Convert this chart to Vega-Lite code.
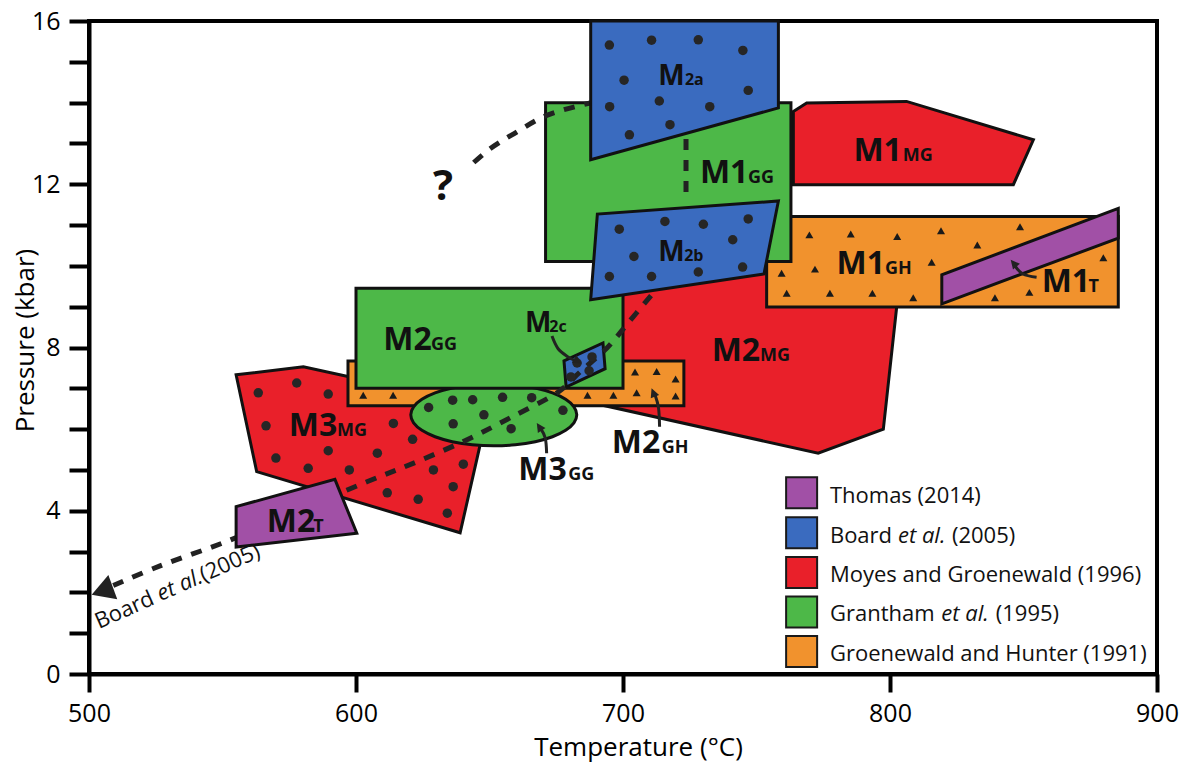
{
  "$schema": "https://vega.github.io/schema/vega-lite/v6.json",
  "width": 1068,
  "height": 653,
  "autosize": {"type": "none"},
  "padding": {"left": 89, "top": 21, "right": 31, "bottom": 89},
  "background": "white",
  "config": {
    "view": {"stroke": "black", "strokeWidth": 4},
    "font": "Open Sans"
  },
  "datasets": {
    "shapes": [
      {"r": "M1MG", "i": 1, "t": 763.8, "p": 13.78},
      {"r": "M1MG", "i": 2, "t": 768.8, "p": 13.99},
      {"r": "M1MG", "i": 3, "t": 806.2, "p": 14.03},
      {"r": "M1MG", "i": 4, "t": 853.7, "p": 13.09},
      {"r": "M1MG", "i": 5, "t": 846.2, "p": 11.99},
      {"r": "M1MG", "i": 6, "t": 763.8, "p": 11.99},
      {"r": "M2MG", "i": 1, "t": 697.0, "p": 9.31},
      {"r": "M2MG", "i": 2, "t": 728.8, "p": 9.66},
      {"r": "M2MG", "i": 3, "t": 758.8, "p": 9.9},
      {"r": "M2MG", "i": 4, "t": 803.2, "p": 9.41},
      {"r": "M2MG", "i": 5, "t": 797.5, "p": 6.0},
      {"r": "M2MG", "i": 6, "t": 773.1, "p": 5.41},
      {"r": "M2MG", "i": 7, "t": 692.1, "p": 6.59},
      {"r": "M2MG", "i": 8, "t": 695.1, "p": 7.21},
      {"r": "M1GH", "i": 1, "t": 753.8, "p": 8.99},
      {"r": "M1GH", "i": 2, "t": 753.8, "p": 11.21},
      {"r": "M1GH", "i": 3, "t": 885.5, "p": 11.21},
      {"r": "M1GH", "i": 4, "t": 885.5, "p": 8.99},
      {"r": "M1GG", "i": 1, "t": 671.0, "p": 10.11},
      {"r": "M1GG", "i": 2, "t": 671.0, "p": 14.0},
      {"r": "M1GG", "i": 3, "t": 762.9, "p": 14.0},
      {"r": "M1GG", "i": 4, "t": 762.9, "p": 10.11},
      {"r": "M1T", "i": 1, "t": 819.4, "p": 9.07},
      {"r": "M1T", "i": 2, "t": 819.4, "p": 9.78},
      {"r": "M1T", "i": 3, "t": 885.5, "p": 11.41},
      {"r": "M1T", "i": 4, "t": 885.5, "p": 10.68},
      {"r": "M3MG", "i": 1, "t": 555.1, "p": 7.33},
      {"r": "M3MG", "i": 2, "t": 580.3, "p": 7.53},
      {"r": "M3MG", "i": 3, "t": 597.8, "p": 7.28},
      {"r": "M3MG", "i": 4, "t": 642.7, "p": 7.21},
      {"r": "M3MG", "i": 5, "t": 649.4, "p": 6.6},
      {"r": "M3MG", "i": 6, "t": 646.4, "p": 5.59},
      {"r": "M3MG", "i": 7, "t": 639.0, "p": 3.46},
      {"r": "M3MG", "i": 8, "t": 562.8, "p": 4.96},
      {"r": "M2GH", "i": 1, "t": 597.0, "p": 6.57},
      {"r": "M2GH", "i": 2, "t": 597.0, "p": 7.67},
      {"r": "M2GH", "i": 3, "t": 722.8, "p": 7.67},
      {"r": "M2GH", "i": 4, "t": 722.8, "p": 6.57},
      {"r": "M3GG", "i": 1, "t": 682.69, "p": 6.35},
      {"r": "M3GG", "i": 2, "t": 681.63, "p": 6.547},
      {"r": "M3GG", "i": 3, "t": 678.52, "p": 6.73},
      {"r": "M3GG", "i": 4, "t": 673.58, "p": 6.887},
      {"r": "M3GG", "i": 5, "t": 667.15, "p": 7.008},
      {"r": "M3GG", "i": 6, "t": 659.65, "p": 7.084},
      {"r": "M3GG", "i": 7, "t": 651.6, "p": 7.11},
      {"r": "M3GG", "i": 8, "t": 643.55, "p": 7.084},
      {"r": "M3GG", "i": 9, "t": 636.05, "p": 7.008},
      {"r": "M3GG", "i": 10, "t": 629.62, "p": 6.887},
      {"r": "M3GG", "i": 11, "t": 624.68, "p": 6.73},
      {"r": "M3GG", "i": 12, "t": 621.57, "p": 6.547},
      {"r": "M3GG", "i": 13, "t": 620.51, "p": 6.35},
      {"r": "M3GG", "i": 14, "t": 621.57, "p": 6.153},
      {"r": "M3GG", "i": 15, "t": 624.68, "p": 5.97},
      {"r": "M3GG", "i": 16, "t": 629.62, "p": 5.813},
      {"r": "M3GG", "i": 17, "t": 636.05, "p": 5.692},
      {"r": "M3GG", "i": 18, "t": 643.55, "p": 5.616},
      {"r": "M3GG", "i": 19, "t": 651.6, "p": 5.59},
      {"r": "M3GG", "i": 20, "t": 659.65, "p": 5.616},
      {"r": "M3GG", "i": 21, "t": 667.15, "p": 5.692},
      {"r": "M3GG", "i": 22, "t": 673.58, "p": 5.813},
      {"r": "M3GG", "i": 23, "t": 678.52, "p": 5.97},
      {"r": "M3GG", "i": 24, "t": 681.63, "p": 6.153},
      {"r": "M2GG", "i": 1, "t": 600.0, "p": 7.0},
      {"r": "M2GG", "i": 2, "t": 600.0, "p": 9.45},
      {"r": "M2GG", "i": 3, "t": 700.0, "p": 9.45},
      {"r": "M2GG", "i": 4, "t": 700.0, "p": 7.0},
      {"r": "M2c", "i": 1, "t": 677.9, "p": 7.67},
      {"r": "M2c", "i": 2, "t": 692.5, "p": 8.11},
      {"r": "M2c", "i": 3, "t": 693.3, "p": 7.48},
      {"r": "M2c", "i": 4, "t": 678.7, "p": 7.03},
      {"r": "M2a", "i": 1, "t": 687.9, "p": 12.6},
      {"r": "M2a", "i": 2, "t": 687.9, "p": 16.0},
      {"r": "M2a", "i": 3, "t": 758.2, "p": 16.0},
      {"r": "M2a", "i": 4, "t": 758.2, "p": 13.87},
      {"r": "M2b", "i": 1, "t": 687.9, "p": 9.17},
      {"r": "M2b", "i": 2, "t": 690.4, "p": 11.27},
      {"r": "M2b", "i": 3, "t": 758.2, "p": 11.59},
      {"r": "M2b", "i": 4, "t": 752.8, "p": 9.8},
      {"r": "M2T", "i": 1, "t": 555.1, "p": 3.11},
      {"r": "M2T", "i": 2, "t": 555.1, "p": 4.1},
      {"r": "M2T", "i": 3, "t": 592.1, "p": 4.77},
      {"r": "M2T", "i": 4, "t": 600.3, "p": 3.45}
    ],
    "paths": [
      {"k": "q", "i": 1, "t": 689.5, "p": 14.02},
      {"k": "q", "i": 2, "t": 671.9, "p": 13.7},
      {"k": "q", "i": 3, "t": 658.4, "p": 13.21},
      {"k": "q", "i": 4, "t": 650.2, "p": 12.87},
      {"k": "q", "i": 5, "t": 642.7, "p": 12.45},
      {"k": "v", "i": 1, "t": 723.6, "p": 13.11},
      {"k": "v", "i": 2, "t": 723.6, "p": 11.72},
      {"k": "b", "i": 1, "t": 715.7, "p": 9.66},
      {"k": "b", "i": 2, "t": 710.1, "p": 9.24},
      {"k": "b", "i": 3, "t": 701.9, "p": 8.6},
      {"k": "b", "i": 4, "t": 694.0, "p": 7.99},
      {"k": "b", "i": 5, "t": 683.9, "p": 7.4},
      {"k": "b", "i": 6, "t": 675.3, "p": 6.89},
      {"k": "b", "i": 7, "t": 658.4, "p": 6.3},
      {"k": "b", "i": 8, "t": 641.6, "p": 5.74},
      {"k": "b", "i": 9, "t": 622.8, "p": 5.2},
      {"k": "b", "i": 10, "t": 604.1, "p": 4.71},
      {"k": "b", "i": 11, "t": 579.0, "p": 4.02},
      {"k": "b", "i": 12, "t": 552.8, "p": 3.28},
      {"k": "b", "i": 13, "t": 526.6, "p": 2.65},
      {"k": "b", "i": 14, "t": 507.1, "p": 2.11}
    ],
    "arrows": [
      {"k": "c", "i": 1, "t": 673.4, "p": 8.28},
      {"k": "c", "i": 2, "t": 675.7, "p": 7.97},
      {"k": "c", "i": 3, "t": 679.4, "p": 7.77},
      {"k": "c", "i": 4, "t": 682.4, "p": 7.67},
      {"k": "g3", "i": 1, "t": 671.4, "p": 5.41},
      {"k": "g3", "i": 2, "t": 670.9, "p": 5.78},
      {"k": "g3", "i": 3, "t": 669.3, "p": 6.0},
      {"k": "gh", "i": 1, "t": 713.7, "p": 6.06},
      {"k": "gh", "i": 2, "t": 713.3, "p": 6.52},
      {"k": "gh", "i": 3, "t": 712.0, "p": 6.84},
      {"k": "mt", "i": 1, "t": 854.9, "p": 9.72},
      {"k": "mt", "i": 2, "t": 849.8, "p": 9.8},
      {"k": "mt", "i": 3, "t": 846.8, "p": 10.0}
    ],
    "dots": [
      {"r": "M2a", "t": 694.9, "p": 15.41}, {"r": "M2a", "t": 710.7, "p": 15.53},
      {"r": "M2a", "t": 728.2, "p": 15.54}, {"r": "M2a", "t": 744.9, "p": 15.28},
      {"r": "M2a", "t": 700.4, "p": 14.55}, {"r": "M2a", "t": 746.9, "p": 14.3},
      {"r": "M2a", "t": 695.0, "p": 13.9}, {"r": "M2a", "t": 713.6, "p": 14.04},
      {"r": "M2a", "t": 732.5, "p": 13.9}, {"r": "M2a", "t": 717.6, "p": 13.46},
      {"r": "M2a", "t": 702.4, "p": 13.21},
      {"r": "M2b", "t": 698.6, "p": 10.9}, {"r": "M2b", "t": 715.7, "p": 11.09},
      {"r": "M2b", "t": 730.1, "p": 11.02}, {"r": "M2b", "t": 746.9, "p": 11.15},
      {"r": "M2b", "t": 741.1, "p": 10.64}, {"r": "M2b", "t": 704.1, "p": 10.23},
      {"r": "M2b", "t": 694.9, "p": 9.74}, {"r": "M2b", "t": 710.7, "p": 9.74},
      {"r": "M2b", "t": 728.2, "p": 9.85}, {"r": "M2b", "t": 744.8, "p": 9.97},
      {"r": "M2c", "t": 682.8, "p": 7.62}, {"r": "M2c", "t": 688.4, "p": 7.77},
      {"r": "M2c", "t": 680.5, "p": 7.28}, {"r": "M2c", "t": 687.3, "p": 7.43},
      {"r": "M3MG", "t": 563.4, "p": 6.89}, {"r": "M3MG", "t": 577.8, "p": 7.13},
      {"r": "M3MG", "t": 589.6, "p": 6.86}, {"r": "M3MG", "t": 566.3, "p": 6.08},
      {"r": "M3MG", "t": 614.0, "p": 6.14}, {"r": "M3MG", "t": 621.2, "p": 5.75},
      {"r": "M3MG", "t": 589.6, "p": 5.47}, {"r": "M3MG", "t": 608.0, "p": 5.41},
      {"r": "M3MG", "t": 570.0, "p": 5.29}, {"r": "M3MG", "t": 582.1, "p": 5.04},
      {"r": "M3MG", "t": 597.5, "p": 5.0}, {"r": "M3MG", "t": 629.0, "p": 5.0},
      {"r": "M3MG", "t": 640.2, "p": 5.14}, {"r": "M3MG", "t": 636.4, "p": 4.59},
      {"r": "M3MG", "t": 611.7, "p": 4.44}, {"r": "M3MG", "t": 623.3, "p": 4.28},
      {"r": "M3MG", "t": 634.2, "p": 3.94},
      {"r": "M3GG", "t": 627.2, "p": 6.53}, {"r": "M3GG", "t": 636.2, "p": 6.71},
      {"r": "M3GG", "t": 643.7, "p": 6.72}, {"r": "M3GG", "t": 654.9, "p": 6.78},
      {"r": "M3GG", "t": 665.8, "p": 6.77}, {"r": "M3GG", "t": 677.5, "p": 6.46},
      {"r": "M3GG", "t": 647.9, "p": 6.35}, {"r": "M3GG", "t": 636.4, "p": 6.13},
      {"r": "M3GG", "t": 658.1, "p": 6.01}
    ],
    "tris": [
      {"r": "M2GH", "t": 602.7, "p": 6.83}, {"r": "M2GH", "t": 613.9, "p": 6.83},
      {"r": "M2GH", "t": 686.7, "p": 6.83}, {"r": "M2GH", "t": 696.4, "p": 6.83},
      {"r": "M2GH", "t": 705.1, "p": 6.89}, {"r": "M2GH", "t": 704.5, "p": 7.4},
      {"r": "M2GH", "t": 712.6, "p": 7.41}, {"r": "M2GH", "t": 719.7, "p": 7.23},
      {"r": "M2GH", "t": 719.7, "p": 6.81},
      {"r": "M1GH", "t": 769.8, "p": 10.76}, {"r": "M1GH", "t": 785.3, "p": 10.78},
      {"r": "M1GH", "t": 802.7, "p": 10.72}, {"r": "M1GH", "t": 819.1, "p": 10.86},
      {"r": "M1GH", "t": 832.7, "p": 10.51}, {"r": "M1GH", "t": 848.7, "p": 10.96},
      {"r": "M1GH", "t": 879.9, "p": 10.2}, {"r": "M1GH", "t": 759.4, "p": 9.82},
      {"r": "M1GH", "t": 771.9, "p": 9.92}, {"r": "M1GH", "t": 815.6, "p": 10.09},
      {"r": "M1GH", "t": 761.3, "p": 9.33}, {"r": "M1GH", "t": 777.5, "p": 9.33},
      {"r": "M1GH", "t": 793.4, "p": 9.33}, {"r": "M1GH", "t": 808.7, "p": 9.22},
      {"r": "M1GH", "t": 839.3, "p": 9.22}, {"r": "M1GH", "t": 852.2, "p": 9.35}
    ],
    "labelMain": [
      {"s": "M2", "t": 610.2, "p": 7.94},
      {"s": "M2", "t": 733.2, "p": 7.68},
      {"s": "M2", "t": 695.8, "p": 5.41},
      {"s": "M3", "t": 660.8, "p": 4.75},
      {"s": "M3", "t": 574.8, "p": 5.82},
      {"s": "M2", "t": 566.6, "p": 3.49},
      {"s": "M1", "t": 728.8, "p": 12.04},
      {"s": "M1", "t": 786.3, "p": 12.56},
      {"s": "M1", "t": 780.0, "p": 9.8},
      {"s": "M1", "t": 856.8, "p": 9.35}
    ],
    "labelSub": [
      {"s": "GG", "t": 628.1, "p": 7.94},
      {"s": "MG", "t": 751.3, "p": 7.68},
      {"s": "GH", "t": 714.5, "p": 5.41},
      {"s": "GG", "t": 679.5, "p": 4.75},
      {"s": "MG", "t": 592.9, "p": 5.82},
      {"s": "T", "t": 584.0, "p": 3.49},
      {"s": "GG", "t": 746.8, "p": 12.04},
      {"s": "MG", "t": 804.8, "p": 12.56},
      {"s": "GH", "t": 798.1, "p": 9.8},
      {"s": "T", "t": 874.3, "p": 9.35}
    ],
    "labelBoard": [
      {"s": "M", "t": 713.2, "p": 14.44},
      {"s": "M", "t": 713.2, "p": 10.13},
      {"s": "M", "t": 663.3, "p": 8.39}
    ],
    "labelBoardSub": [
      {"s": "2a", "t": 723.2, "p": 14.44},
      {"s": "2b", "t": 722.9, "p": 10.13},
      {"s": "2c", "t": 672.4, "p": 8.39}
    ],
    "query": [{"s": "?", "t": 628.8, "p": 11.62}],
    "legendKeys": [
      {"src": "Thomas (2014)", "t": 766.9, "p": 4.44},
      {"src": "Board et al. (2005)", "t": 766.9, "p": 3.46},
      {"src": "Moyes and Groenewald (1996)", "t": 766.9, "p": 2.49},
      {"src": "Grantham et al. (1995)", "t": 766.9, "p": 1.52},
      {"src": "Groenewald and Hunter (1991)", "t": 766.9, "p": 0.55}
    ],
    "legendText": [
      {"s": "Thomas (2014)", "t": 777.5, "p": 4.19},
      {"s": "Board", "t": 777.5, "p": 3.22},
      {"s": "(2005)", "t": 823.2, "p": 3.22},
      {"s": "Moyes and Groenewald (1996)", "t": 777.5, "p": 2.25},
      {"s": "Grantham", "t": 777.5, "p": 1.29},
      {"s": "(1995)", "t": 839.6, "p": 1.29},
      {"s": "Groenewald and Hunter (1991)", "t": 777.5, "p": 0.32}
    ],
    "legendItalic": [
      {"s": "et al.", "t": 803.0, "p": 3.22},
      {"s": "et al.", "t": 819.2, "p": 1.29}
    ],
    "noteText": [
      {"s": "Board", "t": 503.7, "p": 1.1},
      {"s": "(2005)", "t": 543.0, "p": 2.25}
    ],
    "noteItalic": [
      {"s": "et al.", "t": 526.9, "p": 1.78}
    ],
    "headC": [{"t": 684.6, "p": 7.61}],
    "headG3": [{"t": 667.7, "p": 6.15}],
    "headGH": [{"t": 710.7, "p": 7.0}],
    "headMT": [{"t": 845.2, "p": 10.15}],
    "headBoard": [{"t": 501.0, "p": 1.94}]
  },
  "encoding": {
    "x": {
      "field": "t",
      "type": "quantitative",
      "scale": {"domain": [500, 900], "nice": false, "zero": false},
      "axis": {
        "title": "Temperature (°C)",
        "values": [500, 600, 700, 800, 900],
        "format": "d",
        "grid": false,
        "domainColor": "black",
        "domainWidth": 4,
        "tickColor": "black",
        "tickWidth": 4,
        "tickSize": 18,
        "labelFont": "Open Sans",
        "labelFontSize": 25,
        "labelColor": "black",
        "labelPadding": 9,
        "labelFlush": false,
        "labelOverlap": false,
        "titleFont": "Open Sans",
        "titleFontSize": 26,
        "titleFontWeight": "normal",
        "titleColor": "black",
        "titleX": 549,
        "titleY": 81,
        "titleAlign": "center",
        "titleBaseline": "alphabetic"
      }
    },
    "y": {
      "field": "p",
      "type": "quantitative",
      "scale": {"domain": [0, 16], "nice": false, "zero": false},
      "axis": {
        "title": "Pressure (kbar)",
        "values": [0, 1, 2, 3, 4, 5, 6, 7, 8, 9, 10, 11, 12, 13, 14, 15, 16],
        "labelExpr": "datum.value % 4 === 0 ? datum.label : ''",
        "grid": false,
        "domainColor": "black",
        "domainWidth": 4,
        "tickColor": "black",
        "tickWidth": 4,
        "tickSize": 20,
        "labelFont": "Open Sans",
        "labelFontSize": 25,
        "labelColor": "black",
        "labelPadding": 9,
        "labelFlush": false,
        "labelOverlap": false,
        "titleFont": "Open Sans",
        "titleFontSize": 26,
        "titleFontWeight": "normal",
        "titleColor": "black",
        "titleAngle": 270,
        "titleX": -56,
        "titleY": 319,
        "titleAlign": "center",
        "titleBaseline": "alphabetic"
      }
    }
  },
  "layer": [
    {
      "data": {"name": "shapes"},
      "transform": [{"filter": "datum.r === 'M1MG' || datum.r === 'M2MG'"}],
      "mark": {"type": "line", "interpolate": "linear-closed", "fill": "#e9202a", "stroke": "#111", "strokeWidth": 3},
      "encoding": {"detail": {"field": "r"}, "order": {"field": "i"}}
    },
    {
      "data": {"name": "shapes"},
      "transform": [{"filter": "datum.r === 'M1GH'"}],
      "mark": {"type": "line", "interpolate": "linear-closed", "fill": "#f1922d", "stroke": "#111", "strokeWidth": 3},
      "encoding": {"detail": {"field": "r"}, "order": {"field": "i"}}
    },
    {
      "data": {"name": "shapes"},
      "transform": [{"filter": "datum.r === 'M1GG'"}],
      "mark": {"type": "line", "interpolate": "linear-closed", "fill": "#4db848", "stroke": "#111", "strokeWidth": 3},
      "encoding": {"detail": {"field": "r"}, "order": {"field": "i"}}
    },
    {
      "data": {"name": "shapes"},
      "transform": [{"filter": "datum.r === 'M1T'"}],
      "mark": {"type": "line", "interpolate": "linear-closed", "fill": "#a150a6", "stroke": "#111", "strokeWidth": 3},
      "encoding": {"detail": {"field": "r"}, "order": {"field": "i"}}
    },
    {
      "data": {"name": "shapes"},
      "transform": [{"filter": "datum.r === 'M3MG'"}],
      "mark": {"type": "line", "interpolate": "linear-closed", "fill": "#e9202a", "stroke": "#111", "strokeWidth": 3},
      "encoding": {"detail": {"field": "r"}, "order": {"field": "i"}}
    },
    {
      "data": {"name": "shapes"},
      "transform": [{"filter": "datum.r === 'M2GH'"}],
      "mark": {"type": "line", "interpolate": "linear-closed", "fill": "#f1922d", "stroke": "#111", "strokeWidth": 3},
      "encoding": {"detail": {"field": "r"}, "order": {"field": "i"}}
    },
    {
      "data": {"name": "shapes"},
      "transform": [{"filter": "datum.r === 'M3GG'"}],
      "mark": {"type": "line", "interpolate": "cardinal-closed", "fill": "#4db848", "stroke": "#111", "strokeWidth": 3},
      "encoding": {"detail": {"field": "r"}, "order": {"field": "i"}}
    },
    {
      "data": {"name": "shapes"},
      "transform": [{"filter": "datum.r === 'M2GG'"}],
      "mark": {"type": "line", "interpolate": "linear-closed", "fill": "#4db848", "stroke": "#111", "strokeWidth": 3},
      "encoding": {"detail": {"field": "r"}, "order": {"field": "i"}}
    },
    {
      "data": {"name": "shapes"},
      "transform": [{"filter": "datum.r === 'M2c'"}],
      "mark": {"type": "line", "interpolate": "linear-closed", "fill": "#3a6bbf", "stroke": "#111", "strokeWidth": 3},
      "encoding": {"detail": {"field": "r"}, "order": {"field": "i"}}
    },
    {
      "data": {"name": "paths"},
      "mark": {"type": "line", "interpolate": "cardinal", "stroke": "#222", "strokeWidth": 5, "strokeDash": [11, 10], "strokeCap": "butt"},
      "encoding": {"detail": {"field": "k"}, "order": {"field": "i"}}
    },
    {
      "data": {"name": "shapes"},
      "transform": [{"filter": "datum.r === 'M2a' || datum.r === 'M2b'"}],
      "mark": {"type": "line", "interpolate": "linear-closed", "fill": "#3a6bbf", "stroke": "#111", "strokeWidth": 3},
      "encoding": {"detail": {"field": "r"}, "order": {"field": "i"}}
    },
    {
      "data": {"name": "shapes"},
      "transform": [{"filter": "datum.r === 'M2T'"}],
      "mark": {"type": "line", "interpolate": "linear-closed", "fill": "#a150a6", "stroke": "#111", "strokeWidth": 3},
      "encoding": {"detail": {"field": "r"}, "order": {"field": "i"}}
    },
    {
      "data": {"name": "dots"},
      "mark": {"type": "point", "shape": "circle", "filled": true, "size": 90, "color": "#262626", "opacity": 1}
    },
    {
      "data": {"name": "tris"},
      "mark": {"type": "point", "shape": "triangle-up", "filled": true, "size": 64, "color": "#1a1a1a", "opacity": 1}
    },
    {
      "data": {"name": "arrows"},
      "mark": {"type": "line", "interpolate": "cardinal", "stroke": "#222", "strokeWidth": 3},
      "encoding": {"detail": {"field": "k"}, "order": {"field": "i"}}
    },
    {
      "data": {"name": "headC"},
      "mark": {"type": "point", "shape": "M0,0L-1,2L1,2Z", "filled": true, "size": 81, "color": "#222", "opacity": 1, "angle": 120}
    },
    {
      "data": {"name": "headG3"},
      "mark": {"type": "point", "shape": "M0,0L-1,2L1,2Z", "filled": true, "size": 81, "color": "#222", "opacity": 1, "angle": 327}
    },
    {
      "data": {"name": "headGH"},
      "mark": {"type": "point", "shape": "M0,0L-1,2L1,2Z", "filled": true, "size": 81, "color": "#222", "opacity": 1, "angle": 338}
    },
    {
      "data": {"name": "headMT"},
      "mark": {"type": "point", "shape": "M0,0L-1,2L1,2Z", "filled": true, "size": 81, "color": "#222", "opacity": 1, "angle": 320}
    },
    {
      "data": {"name": "headBoard"},
      "mark": {"type": "point", "shape": "M0,0L-1,1.73L1,1.73Z", "filled": true, "size": 676, "color": "#222", "opacity": 1, "angle": 250}
    },
    {
      "data": {"name": "labelMain"},
      "mark": {"type": "text", "font": "Open Sans", "fontWeight": "bold", "fontSize": 32, "align": "left", "baseline": "alphabetic", "color": "#111"},
      "encoding": {"text": {"field": "s"}}
    },
    {
      "data": {"name": "labelSub"},
      "mark": {"type": "text", "font": "Open Sans", "fontWeight": "bold", "fontSize": 18, "align": "left", "baseline": "alphabetic", "color": "#111"},
      "encoding": {"text": {"field": "s"}}
    },
    {
      "data": {"name": "labelBoard"},
      "mark": {"type": "text", "font": "Open Sans", "fontWeight": "bold", "fontSize": 28, "align": "left", "baseline": "alphabetic", "color": "#111"},
      "encoding": {"text": {"field": "s"}}
    },
    {
      "data": {"name": "labelBoardSub"},
      "mark": {"type": "text", "font": "Open Sans", "fontWeight": "bold", "fontSize": 16, "align": "left", "baseline": "alphabetic", "color": "#111"},
      "encoding": {"text": {"field": "s"}}
    },
    {
      "data": {"name": "query"},
      "mark": {"type": "text", "font": "Open Sans", "fontWeight": "bold", "fontSize": 42, "align": "left", "baseline": "alphabetic", "color": "#111"},
      "encoding": {"text": {"field": "s"}}
    },
    {
      "data": {"name": "noteText"},
      "mark": {"type": "text", "font": "Open Sans", "fontSize": 22, "align": "left", "baseline": "alphabetic", "angle": -24, "color": "#111"},
      "encoding": {"text": {"field": "s"}}
    },
    {
      "data": {"name": "noteItalic"},
      "mark": {"type": "text", "font": "Open Sans", "fontStyle": "italic", "fontSize": 22, "align": "left", "baseline": "alphabetic", "angle": -24, "color": "#111"},
      "encoding": {"text": {"field": "s"}}
    },
    {
      "data": {"name": "legendKeys"},
      "mark": {"type": "point", "shape": "square", "filled": true, "size": 961, "stroke": "#1a1a1a", "strokeWidth": 2, "opacity": 1},
      "encoding": {
        "fill": {
          "field": "src",
          "type": "nominal",
          "scale": {
            "domain": ["Thomas (2014)", "Board et al. (2005)", "Moyes and Groenewald (1996)", "Grantham et al. (1995)", "Groenewald and Hunter (1991)"],
            "range": ["#a150a6", "#3a6bbf", "#e9202a", "#4db848", "#f1922d"]
          },
          "legend": null
        }
      }
    },
    {
      "data": {"name": "legendText"},
      "mark": {"type": "text", "font": "Open Sans", "fontSize": 22, "align": "left", "baseline": "alphabetic", "color": "#111"},
      "encoding": {"text": {"field": "s"}}
    },
    {
      "data": {"name": "legendItalic"},
      "mark": {"type": "text", "font": "Open Sans", "fontStyle": "italic", "fontSize": 22, "align": "left", "baseline": "alphabetic", "color": "#111"},
      "encoding": {"text": {"field": "s"}}
    }
  ]
}
